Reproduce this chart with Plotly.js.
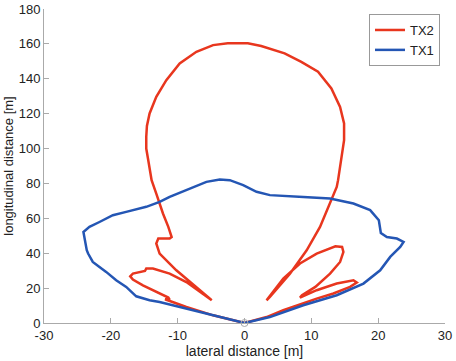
<!DOCTYPE html>
<html>
<head>
<meta charset="utf-8">
<script src="https://cdn.plot.ly/plotly-3.0.1.min.js"></script>
<style>html,body{margin:0;padding:0;background:#fff;}#chart{width:456px;height:361px;}</style>
</head>
<body>
<div id="chart"></div>
<script>
// TX2 pattern (lateral x, longitudinal y) in metres
const tx2X = [0, 3.3, 5.8, 8.3, 10.8, 13.3, 15.8, 16.8, 16.3, 13.8, 10.8, 8.3, 8.6, 10.6, 12.8, 14.3, 14.8, 14.6, 13.6, 10.8, 8.3, 5.8, 3.3,
  3.8, 6.8, 9.3, 11.3, 12.8, 13.8, 14.0, 14.5, 14.9, 14.9, 14.3, 13.0, 11.0, 8.5, 6.0, 2.5, 0.5, -2.5, -4.7, -7.2, -9.7, -11.7, -13.2, -14.2, -14.6, -14.7, -14.7, -14.4, -13.9, -13.2, -12.2, -11.4, -10.9, -11.2, -12.9, -13.2, -12.9, -12.7, -10.2, -7.2, -4.9,
  -8.7, -11.2, -13.7, -14.7, -14.9, -16.7, -17.1, -16.7, -15.2, -13.2, -12.2, -11.4, -11.2, -11.9, -8.7, -4.7, 0];
const tx2Y = [0, 3.4, 7.3, 10.7, 14.0, 16.9, 20.7, 23.2, 24.5, 22.6, 18.8, 14.6, 15.9, 20.7, 28.3, 35.0, 40.7, 43.6, 44.0, 39.8, 34.1, 25.5, 13.0,
  14.9, 28.3, 41.7, 55.1, 68.5, 78.0, 81.9, 93.3, 104.8, 114.4, 123.9, 134.5, 144.0, 149.7, 154.6, 158.8, 160.3, 160.3, 159.3, 155.5, 148.8, 139.2, 129.7, 120.1, 113.0, 106.7, 100.0, 93.3, 81.9, 74.2, 62.8, 55.1, 49.3, 48.4, 48.4, 45.6, 41.7, 39.8, 30.2, 20.7, 13.0,
  23.5, 28.3, 31.2, 31.2, 29.8, 28.3, 26.8, 24.9, 21.6, 17.8, 15.9, 14.6, 13.4, 13.6, 9.2, 4.4, 0];

// TX1 pattern
const tx1X = [0, 3.8, 8.8, 13.8, 17.8, 20.3, 21.8, 23.3, 23.8, 22.8, 21.3, 20.4, 20.1, 18.8, 16.3, 13.8, 12.8, 8.8, 6.3, 3.8, 1.8, -0.2, -2.2, -3.7, -5.7, -8.7, -11.2, -12.7, -14.7, -17.7, -19.7, -21.7, -23.2, -24.1, -23.9, -23.6, -23.4, -22.7, -21.7, -20.7, -19.2, -17.7, -16.2, -14.2, -12.7, -8.7, -4.7, -2.4, 0];
const tx1Y = [0, 3.4, 10.2, 15.9, 22.6, 30.2, 37.9, 43.6, 46.5, 48.4, 49.3, 51.6, 58.9, 64.7, 68.5, 70.4, 71.4, 72.3, 72.7, 73.3, 75.2, 79.0, 81.9, 82.3, 80.9, 76.1, 72.3, 69.4, 66.6, 63.7, 61.8, 57.9, 55.1, 52.2, 47.4, 41.7, 39.8, 35.0, 32.1, 29.3, 24.5, 20.7, 15.3, 13.0, 12.0, 8.3, 4.4, 2.5, 0];

const originX = [0];
const originY = [0];

const xTicks = [-30, -20, -10, 0, 10, 20, 30];
const yTicks = [0, 20, 40, 60, 80, 100, 120, 140, 160, 180];

const font = 'Liberation Sans, Arial, Helvetica, sans-serif';

const traces = [
  {x: tx2X, y: tx2Y, type: 'scatter', mode: 'lines', name: 'TX2',
   line: {color: '#e8361e', width: 2.5}},
  {x: tx1X, y: tx1Y, type: 'scatter', mode: 'lines', name: 'TX1',
   line: {color: '#2456b4', width: 2.5}},
  {x: originX, y: originY, type: 'scatter', mode: 'markers', showlegend: false, cliponaxis: false,
   marker: {symbol: 'circle-open', size: 7, color: '#aaaaaa', line: {width: 1}}}
];

const layout = {
  width: 456, height: 361,
  margin: {l: 44, r: 11, t: 9, b: 38},
  paper_bgcolor: '#fff', plot_bgcolor: '#fff',
  font: {family: font, size: 13, color: '#222'},
  showlegend: true,
  legend: {x: 0.9875, y: 0.984, xanchor: 'right', yanchor: 'top',
    bgcolor: '#fff', bordercolor: '#999', borderwidth: 1,
    font: {family: font, size: 13, color: '#222'},
    tracegroupgap: 0, itemwidth: 30},
  xaxis: {range: [-30, 30], tickvals: xTicks, ticktext: xTicks.map(String),
    showgrid: false, zeroline: false, showline: true, linecolor: '#aaa', linewidth: 1,
    ticks: 'inside', ticklen: 5, tickcolor: '#aaa',
    title: {text: 'lateral distance [m]', font: {family: font, size: 14, color: '#222'}, standoff: 3}},
  yaxis: {range: [0, 180], tickvals: yTicks, ticktext: yTicks.map(String),
    showgrid: false, zeroline: false, showline: true, linecolor: '#aaa', linewidth: 1,
    ticks: 'inside', ticklen: 5, tickcolor: '#aaa',
    title: {text: 'longitudinal distance [m]', font: {family: font, size: 13, color: '#222'}, standoff: 2}}
};

Plotly.newPlot('chart', traces, layout, {displayModeBar: false, staticPlot: true});
</script>
</body>
</html>
